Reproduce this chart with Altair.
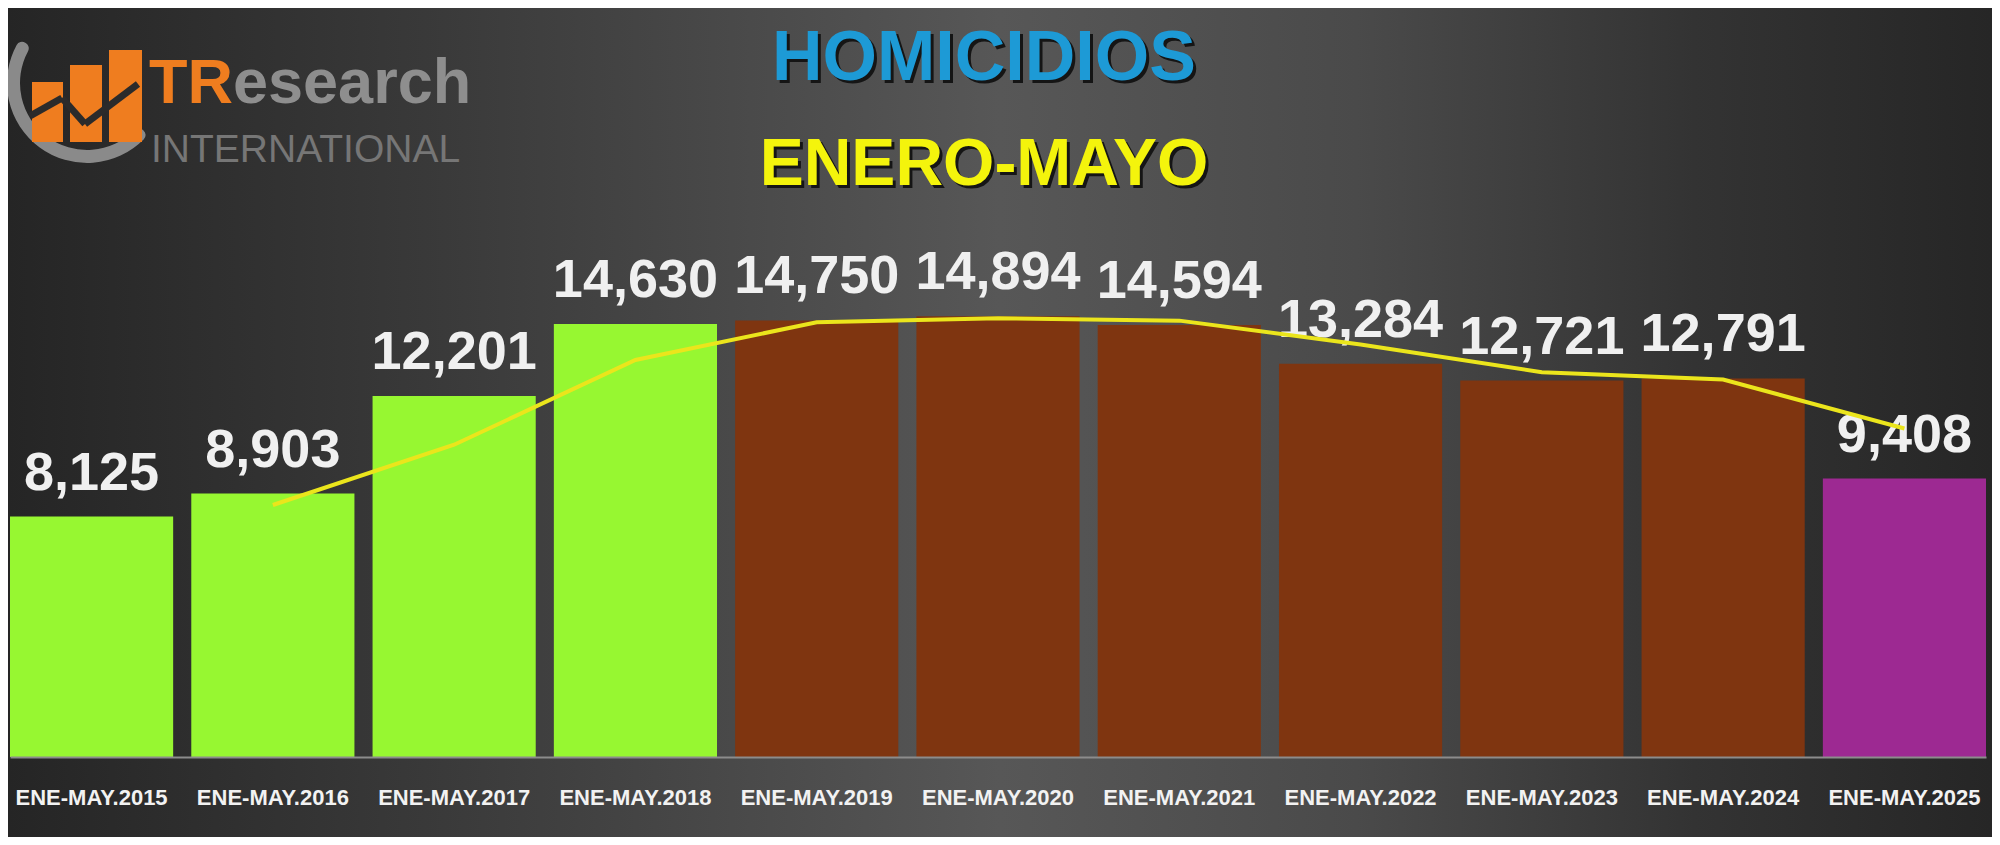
import altair as alt
import pandas as pd

# ---- data ----
periods = ["ENE-MAY.2015", "ENE-MAY.2016", "ENE-MAY.2017", "ENE-MAY.2018",
           "ENE-MAY.2019", "ENE-MAY.2020", "ENE-MAY.2021", "ENE-MAY.2022",
           "ENE-MAY.2023", "ENE-MAY.2024", "ENE-MAY.2025"]
homicidios = [8125, 8903, 12201, 14630, 14750, 14894, 14594, 13284, 12721, 12791, 9408]
sexenio = ["EPN", "EPN", "EPN", "EPN", "AMLO", "AMLO", "AMLO", "AMLO", "AMLO", "AMLO", "CSP"]

df = pd.DataFrame({"periodo": periods, "homicidios": homicidios,
                   "sexenio": sexenio, "orden": list(range(1, len(periods) + 1))})

FONT = "Liberation Sans, Arial, sans-serif"
PLOT_W, PLOT_H = 1976, 549
PAD = {"left": 2, "top": 200, "right": 6, "bottom": 80}

x_enc = alt.X("periodo:N", sort=periods, title=None,
              scale=alt.Scale(paddingInner=0.1, paddingOuter=0),
              axis=alt.Axis(labelAngle=0, ticks=False, domain=True,
                            domainColor="#8c8c8c", domainWidth=2,
                            labelColor="#f2f2f2", labelFont=FONT,
                            labelFontSize=22, labelFontWeight="bold",
                            labelPadding=40, labelBaseline="middle", zindex=1))
y_scale = alt.Scale(domain=[0, 18550], nice=False, zero=True)
y_enc = alt.Y("homicidios:Q", scale=y_scale, axis=None)

one = alt.Data(values=[{}])

# background gradient
bg = alt.Chart(one).mark_rect(
    color=alt.LinearGradient(
        gradient="linear", x1=0, x2=1, y1=0, y2=0,
        stops=[alt.GradientStop(color="#252525", offset=0),
               alt.GradientStop(color="#3a3a3a", offset=0.22),
               alt.GradientStop(color="#575757", offset=0.5),
               alt.GradientStop(color="#4a4a4a", offset=0.68),
               alt.GradientStop(color="#333333", offset=0.85),
               alt.GradientStop(color="#262626", offset=1)])
).encode(x=alt.value(-2), x2=alt.value(PLOT_W + 6),
         y=alt.value(-PAD["top"]), y2=alt.value(PLOT_H + PAD["bottom"]))

bars = alt.Chart(df).mark_bar().encode(
    x=x_enc, y=y_enc,
    color=alt.Color("sexenio:N", legend=None,
                    scale=alt.Scale(domain=["EPN", "AMLO", "CSP"],
                                    range=["#97f731", "#7f3510", "#9d2992"])))

labels = alt.Chart(df).mark_text(
    font=FONT, fontSize=54, fontWeight="bold", color="#f0f0f0",
    baseline="alphabetic", dy=-27
).encode(x=alt.X("periodo:N", sort=periods), y=alt.Y("homicidios:Q", scale=y_scale),
         text=alt.Text("homicidios:Q", format=",.0f"))

trend = alt.Chart(df).transform_window(
    media="mean(homicidios)", frame=[-1, 0], sort=[alt.SortField("orden")]
).transform_filter("datum.orden > 1").mark_line(
    color="#ebe51c", strokeWidth=4
).encode(x=alt.X("periodo:N", sort=periods), y=alt.Y("media:Q", scale=y_scale))

# titles
def txt(text, x, y, size, color, weight="bold", align="center", font=FONT):
    return alt.Chart(one).mark_text(text=text, font=font, fontSize=size,
                                    fontWeight=weight, color=color, align=align,
                                    baseline="alphabetic").encode(
        x=alt.value(x), y=alt.value(y))

title_layers = [
    txt("HOMICIDIOS", 977, -125, 70, "#151515"),
    txt("HOMICIDIOS", 974, -128, 70, "#1d9ad6"),
    txt("ENERO-MAYO", 977, -20, 66, "#151515"),
    txt("ENERO-MAYO", 974, -23, 66, "#f4f40c"),
]

# logo
crescent = alt.Chart(one).mark_arc(color="#8a8a8a", cornerRadius=6).encode(
    x=alt.value(77), y=alt.value(-125), theta=alt.value(2.27), theta2=alt.value(5.29),
    radius=alt.value(80), radius2=alt.value(67))

def orect(x1, x2, y1, y2):
    return alt.Chart(one).mark_rect(color="#ef7d1f").encode(
        x=alt.value(x1), x2=alt.value(x2), y=alt.value(y1), y2=alt.value(y2))

def seg(x1, y1, x2, y2):
    return alt.Chart(one).mark_rule(color="#2b2b2b", strokeWidth=7).encode(
        x=alt.value(x1), y=alt.value(y1), x2=alt.value(x2), y2=alt.value(y2))

logo = [
    crescent,
    orect(22, 53, -126, -66), orect(60, 92, -143, -66), orect(99, 132, -158, -66),
    seg(20, -92, 52, -110), seg(52, -110, 75, -84), seg(75, -84, 128, -124),
    txt("TR", 139, -105, 63, "#ef7d1f", align="left"),
    txt("esearch", 223, -105, 63, "#8e8e8e", align="left"),
    txt("INTERNATIONAL", 141, -46, 39, "#767676", weight="normal", align="left"),
]

chart = alt.layer(bg, bars, labels, trend, *title_layers, *logo).properties(
    width=PLOT_W, height=PLOT_H, padding=PAD,
    autosize=alt.AutoSizeParams(type="none"),
    background="#2c2c2c"
).configure_view(stroke=None).configure_axis(grid=False)

chart.save("out.html", embed_options={"renderer": "svg", "actions": False})
